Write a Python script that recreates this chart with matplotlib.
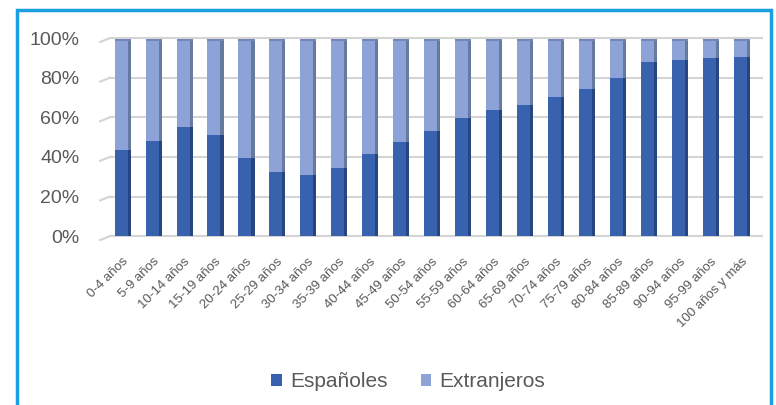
import numpy as np
import matplotlib.pyplot as plt
from matplotlib.patches import Rectangle

plt.rcParams['font.family'] = ['Liberation Sans', 'DejaVu Sans']

GRUPOS = ['0-4 años', '5-9 años', '10-14 años', '15-19 años', '20-24 años',
          '25-29 años', '30-34 años', '35-39 años', '40-44 años', '45-49 años',
          '50-54 años', '55-59 años', '60-64 años', '65-69 años', '70-74 años',
          '75-79 años', '80-84 años', '85-89 años', '90-94 años', '95-99 años',
          '100 años y más']

ESPANOLES = [44, 49, 56, 52, 40, 33, 31.5, 35, 42, 48,
             54, 60.5, 64.5, 67, 71.5, 75.5, 81, 89, 90.5, 91.5, 92]
EXTRANJEROS = [100 - v for v in ESPANOLES]

COL_ESP = '#3862AD'
COL_ESP_SIDE = '#27467F'
COL_EXT = '#8DA2D6'
COL_EXT_SIDE = '#66799F'
COL_CAP = '#7387B8'
TXT = '#595959'
GRID = '#D4D4D4'

fig = plt.figure(figsize=(7.76, 4.05), dpi=100)
ax = fig.add_axes([0.129, 0.417, 0.853, 0.489])

x = np.arange(len(GRUPOS))
esp = np.array(ESPANOLES) / 100 * 0.985
ext = np.array(EXTRANJEROS) / 100 * 0.985

w = 0.42
# caras frontales
ax.bar(x, esp, width=w, color=COL_ESP, label='Españoles', zorder=3)
ax.bar(x, ext, width=w, bottom=esp, color=COL_EXT, label='Extranjeros', zorder=3)
# caras laterales (efecto 3D)
ax.bar(x + w / 2 + 0.05, esp, width=0.1, color=COL_ESP_SIDE, zorder=3)
ax.bar(x + w / 2 + 0.05, ext, width=0.1, bottom=esp, color=COL_EXT_SIDE, zorder=3)
# tapa superior
ax.bar(x + 0.05, 0.012, width=w + 0.1, bottom=esp + ext, color=COL_CAP, zorder=3)

x0, x1 = -0.68, len(GRUPOS) - 1 + 0.71
ax.set_xlim(x0, x1)
ax.set_ylim(0, 1)
ticks = np.arange(0, 1.01, 0.2)
ax.set_yticks(ticks)
ax.set_yticklabels([f'{int(round(v * 100))}%' for v in ticks])
# rejilla con el pequeño tramo en diagonal del gráfico 3D
for t in ticks:
    ax.plot([x0, x0 + 0.32], [t - 0.02, t], color=GRID, lw=1.5, zorder=1, clip_on=False)
    ax.plot([x0 + 0.32, x1], [t, t], color=GRID, lw=1.5, zorder=1, clip_on=False)

ax.set_xticks(x + 0.03)
ax.set_xticklabels(GRUPOS, rotation=45, ha='right', rotation_mode='anchor',
                   fontsize=9.5, color=TXT)
ax.tick_params(axis='y', labelsize=14, labelcolor=TXT, length=0, pad=15)
ax.tick_params(axis='x', length=0, pad=14)
for s in ax.spines.values():
    s.set_visible(False)

ax.legend(loc='center', bbox_to_anchor=(0.526, 0.057), bbox_transform=fig.transFigure,
          ncol=2, frameon=False, fontsize=15, labelcolor=TXT,
          handlelength=0.5, handleheight=0.5, handletextpad=0.4, columnspacing=1.6)

# marco azul
fig.patches.append(Rectangle((17 / 776, -0.05), (771 - 17) / 776, 1.05 - 10 / 405,
                             transform=fig.transFigure, fill=False,
                             edgecolor='#1AA0E0', linewidth=2.5, clip_on=False))

fig.savefig('out.png', dpi=100)
